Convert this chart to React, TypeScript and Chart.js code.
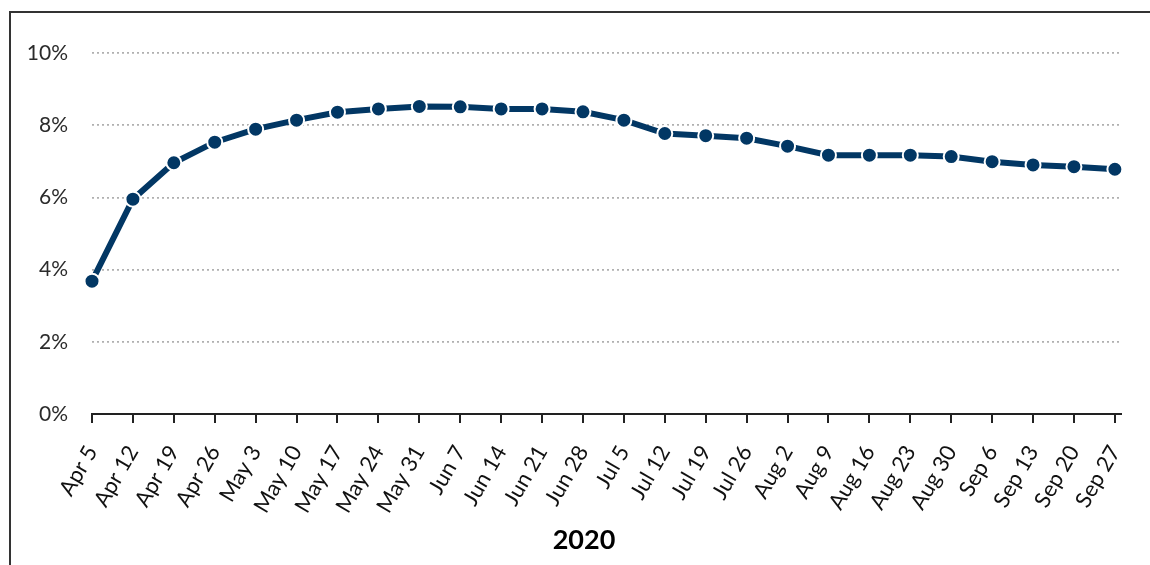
import React, { useEffect, useRef } from "react";
import { Chart, registerables } from "chart.js";

Chart.register(...registerables);

const weekLabels: string[] = [
  "Apr 5", "Apr 12", "Apr 19", "Apr 26",
  "May 3", "May 10", "May 17", "May 24", "May 31",
  "Jun 7", "Jun 14", "Jun 21", "Jun 28",
  "Jul 5", "Jul 12", "Jul 19", "Jul 26",
  "Aug 2", "Aug 9", "Aug 16", "Aug 23", "Aug 30",
  "Sep 6", "Sep 13", "Sep 20", "Sep 27",
];

const rateValues: number[] = [
  3.68, 5.95, 6.96, 7.53,
  7.89, 8.14, 8.36, 8.45, 8.52,
  8.51, 8.45, 8.45, 8.37,
  8.14, 7.77, 7.71, 7.64,
  7.42, 7.17, 7.17, 7.17, 7.13,
  6.99, 6.9, 6.85, 6.78,
];

const yTickValues: number[] = [0, 2, 4, 6, 8, 10];
const xAxisTitle = "2020";

const FONT = "Lato, 'Open Sans', 'DejaVu Sans', sans-serif";
const NAVY = "#023764";

export default function App() {
  const canvasRef = useRef<HTMLCanvasElement | null>(null);

  useEffect(() => {
    if (!canvasRef.current) return;
    const points = rateValues.map((v, i) => ({ x: i, y: v }));
    const chart = new Chart(canvasRef.current, {
      type: "line",
      data: {
        datasets: [
          {
            data: points,
            borderColor: NAVY,
            backgroundColor: NAVY,
            borderWidth: 6,
            tension: 0,
            pointRadius: 7.5,
            pointHoverRadius: 7.5,
            pointBackgroundColor: NAVY,
            pointBorderColor: "#ffffff",
            pointBorderWidth: 2,
            clip: false as any,
          },
        ],
      },
      options: {
        animation: false,
        responsive: true,
        maintainAspectRatio: false,
        layout: { padding: { left: 18, right: 0, top: 53, bottom: 0 } },
        plugins: {
          legend: { display: false },
          tooltip: { enabled: false },
          title: {
            display: true,
            position: "bottom",
            text: xAxisTitle,
            color: "#000000",
            font: { family: FONT, size: 27, weight: "bold", lineHeight: 1.2 },
            padding: { top: 0, bottom: 9 },
          },
        },
        scales: {
          x: {
            type: "linear",
            min: 0,
            max: weekLabels.length - 1 + 0.15,
            afterBuildTicks: (scale: any) => {
              scale.ticks = weekLabels.map((_, i) => ({ value: i }));
            },
            afterFit: (scale: any) => {
              scale.height = 565 - 414 - (27 * 1.2 + 9);
              scale.paddingLeft = 0;
              scale.paddingRight = 29;
            },
            ticks: {
              autoSkip: false,
              maxRotation: 60,
              minRotation: 60,
              padding: 18,
              color: "#111111",
              font: { family: FONT, size: 22 },
              callback: (v: any) => weekLabels[Math.round(Number(v))] ?? "",
            },
            grid: {
              drawOnChartArea: false,
              drawTicks: true,
              tickLength: 9,
              color: "#222222",
              lineWidth: 2,
            },
            border: { display: true, color: "#222222", width: 2 },
          },
          y: {
            min: 0,
            max: 10,
            afterBuildTicks: (scale: any) => {
              scale.ticks = yTickValues.map((v) => ({ value: v }));
            },
            afterFit: (scale: any) => {
              scale.width = 74;
            },
            ticks: {
              padding: 24,
              color: "#2b2b2b",
              font: { family: FONT, size: 21 },
              callback: (v: any) => `${v}%`,
            },
            grid: {
              drawTicks: false,
              color: "#b0b0b0",
              lineWidth: 1.8,
            },
            border: { display: false, dash: [2, 3] },
          },
        },
      },
    } as any);
    return () => chart.destroy();
  }, []);

  return (
    <div
      style={{
        position: "fixed",
        left: 0,
        top: 0,
        width: 1150,
        height: 565,
        background: "#ffffff",
        overflow: "hidden",
      }}
    >
      <div
        style={{
          position: "absolute",
          left: 9,
          top: 11,
          width: 1200,
          height: 600,
          borderLeft: "2px solid #333333",
          borderTop: "2px solid #333333",
          boxSizing: "border-box",
        }}
      />
      <div style={{ position: "absolute", left: 0, top: 0, width: 1150, height: 565 }}>
        <canvas ref={canvasRef} />
      </div>
    </div>
  );
}
